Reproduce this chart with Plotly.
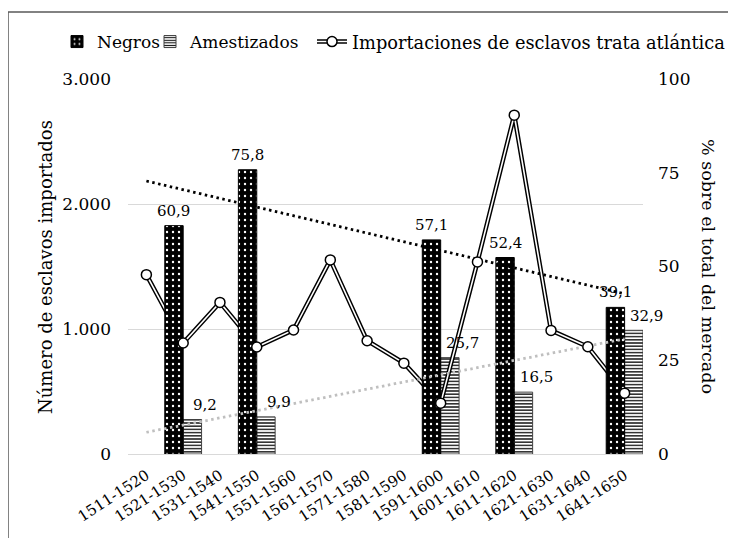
import plotly.graph_objects as go

categories = ["1511-1520", "1521-1530", "1531-1540", "1541-1550", "1551-1560",
              "1561-1570", "1571-1580", "1581-1590", "1591-1600", "1601-1610",
              "1611-1620", "1621-1630", "1631-1640", "1641-1650"]
negros = [None, 60.9, None, 75.8, None, None, None, None, 57.1, None, 52.4, None, None, 39.1]
amestizados = [None, 9.2, None, 9.9, None, None, None, None, 25.7, None, 16.5, None, None, 32.9]
importaciones = [1435, 888, 1213, 856, 992, 1553, 906, 727, 407, 1537, 2711, 989, 858, 487]
trend_negros = [72.8, 42.7]
trend_amestizados = [5.8, 30.7]

FONT = "DejaVu Serif"
OFF = 8  # page body margin: the figure starts 8px from the window edge
W, H = 736 - OFF, 538 - OFF
L, T = 128 - OFF, 79 - OFF
pw, ph = 515, 375
R, B = W - L - pw, H - T - ph

def px_x(x):  # x in window pixels -> paper
    return (x - OFF - L) / pw

def px_y(y):  # y in window pixels -> paper
    return (H - B - (y - OFF)) / ph

fig = go.Figure()

# Amestizados bars (lowest layer)
fig.add_trace(go.Bar(
    x=categories, y=amestizados, name="Amestizados", yaxis="y", legend="legend2",
    offset=0, width=0.5,
    marker=dict(color="white", line=dict(color="#404040", width=1),
                pattern=dict(shape="-", fgcolor="black", bgcolor="white",
                             size=3.2, solidity=0.4, fillmode="replace")),
))

# double line (between Amestizados and Negros)
fig.add_trace(go.Scatter(
    x=categories, y=importaciones, yaxis="y2", mode="lines",
    line=dict(color="black", width=4.5), showlegend=False, hoverinfo="skip",
))
fig.add_trace(go.Scatter(
    x=categories, y=importaciones, yaxis="y2", mode="lines",
    line=dict(color="white", width=1.6), showlegend=False, hoverinfo="skip",
))

# Negros bars
fig.add_trace(go.Bar(
    x=categories, y=negros, name="Negros", yaxis="y3", legend="legend",
    offset=-0.5, width=0.5,
    marker=dict(color="black", line=dict(color="black", width=1),
                pattern=dict(shape=".", fgcolor="white", bgcolor="black",
                             size=6, solidity=0.12, fillmode="replace")),
))

# trend lines
fig.add_trace(go.Scatter(
    x=[categories[0], categories[-1]], y=trend_negros, yaxis="y3", mode="lines",
    line=dict(color="black", width=2.8, dash="2.5px,3.5px"), showlegend=False, hoverinfo="skip",
))
fig.add_trace(go.Scatter(
    x=[categories[0], categories[-1]], y=trend_amestizados, yaxis="y3", mode="lines",
    line=dict(color="#bfbfbf", width=2.8, dash="2.5px,3.5px"), showlegend=False, hoverinfo="skip",
))

# markers on top
fig.add_trace(go.Scatter(
    x=categories, y=importaciones, yaxis="y4", mode="markers",
    marker=dict(symbol="circle", size=10, color="white", line=dict(color="black", width=1.5)),
    showlegend=False,
))
# legend entries for the double line series (two overlaid legends)
LEG_NAME = "Importaciones de esclavos trata atlántica"
fig.add_trace(go.Scatter(
    x=[None], y=[None], yaxis="y4", mode="lines", name=LEG_NAME, legend="legend3",
    line=dict(color="black", width=4.5),
))
fig.add_trace(go.Scatter(
    x=[None], y=[None], yaxis="y4", mode="lines+markers", name=LEG_NAME, legend="legend4",
    line=dict(color="white", width=1.6),
    marker=dict(symbol="circle", size=10, color="white", line=dict(color="black", width=1.5)),
))

annotations = []
for i, v in enumerate(negros):
    if v is not None:
        annotations.append(dict(x=i - 0.25, y=v, xref="x", yref="y3",
                                text=f"{v:.1f}".replace(".", ","), showarrow=False,
                                yanchor="bottom", yshift=4,
                                font=dict(family=FONT, size=15, color="black")))
for i, v in enumerate(amestizados):
    if v is not None:
        annotations.append(dict(x=i + 0.25, y=v, xref="x", yref="y3",
                                text=f"{v:.1f}".replace(".", ","), showarrow=False,
                                yanchor="bottom", yshift=4, xshift=13,
                                font=dict(family=FONT, size=15, color="black")))

annotations.append(dict(x=px_x(45), y=px_y(267), xref="paper", yref="paper",
                        xanchor="center", yanchor="middle",
                        text="Número de esclavos importados", textangle=-90,
                        showarrow=False, font=dict(family=FONT, size=18, color="black")))
annotations.append(dict(x=px_x(708), y=px_y(266), xref="paper", yref="paper",
                        xanchor="center", yanchor="middle",
                        text="% sobre el total del mercado", textangle=90,
                        showarrow=False, font=dict(family=FONT, size=17.5, color="black")))

shapes = [
    dict(type="line", xref="paper", yref="paper", x0=px_x(8), x1=px_x(760),
         y0=px_y(12), y1=px_y(12), line=dict(color="#595959", width=1.5)),
    dict(type="line", xref="paper", yref="paper", x0=px_x(8), x1=px_x(8),
         y0=px_y(12), y1=px_y(560), line=dict(color="#595959", width=1.5)),
]

LEG_FONT = dict(family=FONT, size=17, color="black")

def leg(text_x, font=LEG_FONT):
    return dict(orientation="h", x=px_x(text_x - 40), xanchor="left", y=px_y(42),
                yanchor="middle", font=font, bgcolor="rgba(0,0,0,0)", borderwidth=0,
                itemwidth=30)

fig.update_layout(
    template="none",
    width=W, height=H,
    margin=dict(l=L, r=R, t=T, b=B, autoexpand=False),
    paper_bgcolor="white", plot_bgcolor="white",
    separators=",.",
    barmode="overlay",
    font=dict(family=FONT, size=16, color="black"),
    showlegend=True,
    legend=leg(97),
    legend2=leg(190),
    legend3=leg(352, dict(family=FONT, size=17.8, color="black")),
    legend4=leg(352, dict(family=FONT, size=17.8, color="rgba(0,0,0,0)")),
    xaxis=dict(type="category", range=[-0.5, 13.5], showgrid=False, showline=True,
               linecolor="#d9d9d9", linewidth=1, automargin=False,
               ticks="", tickangle=-33, ticklabelstandoff=6,
               tickfont=dict(family=FONT, size=15, color="black"), zeroline=False),
    yaxis=dict(range=[0, 100], visible=False, showgrid=False, zeroline=False, automargin=False),
    yaxis2=dict(range=[0, 3000], overlaying="y", side="left", dtick=1000, tickformat=",.0f",
                showgrid=True, gridcolor="#d9d9d9", gridwidth=1, zeroline=False, ticks="",
                ticklabelstandoff=16, showline=False, automargin=False,
                tickfont=dict(family=FONT, size=17, color="black")),
    yaxis3=dict(range=[0, 100], overlaying="y", side="right", dtick=25, showgrid=False,
                zeroline=False, ticks="", ticklabelstandoff=14, showline=False, automargin=False,
                tickfont=dict(family=FONT, size=17, color="black")),
    yaxis4=dict(range=[0, 3000], overlaying="y", visible=False, showgrid=False, zeroline=False,
                automargin=False),
    annotations=annotations,
    shapes=shapes,
)

fig.write_html("out.html")
